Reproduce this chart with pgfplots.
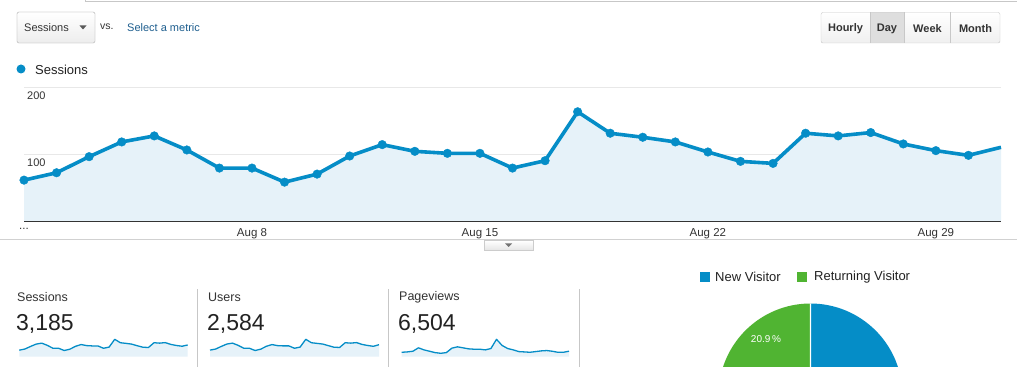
\documentclass[border=0pt]{standalone}
\usepackage{fontspec}
\setmainfont{Liberation Sans}
\usepackage{pgfplots}
\pgfplotsset{compat=1.18}
\usepackage{pgfplotstable}

\definecolor{gablue}{HTML}{058DC7}
\definecolor{gagreen}{HTML}{50B432}
\definecolor{areablue}{HTML}{E6F2F9}
\definecolor{sparkfill}{HTML}{E6F2F9}
\definecolor{gridc}{HTML}{E8E8E8}
\definecolor{txt}{HTML}{333333}
\definecolor{dark}{HTML}{222222}
\definecolor{linkc}{HTML}{1F5F8F}
\definecolor{bord}{HTML}{C8C8C8}

\newcommand{\fs}[1]{\fontsize{#1bp}{#1bp}\selectfont}

% day, sessions, users, pageviews
\pgfplotstableread{
d s u p
1 61 50 139
2 72 58 150
3 96 78 171
4 118 96 278
5 127 103 214
6 106 86 171
7 79 64 128
8 79 64 107
9 58 47 128
10 70 57 268
11 97 79 310
12 114 92 278
13 104 84 246
14 101 82 235
15 101 82 235
16 79 64 214
17 90 73 257
18 163 132 546
19 131 106 353
20 125 101 257
21 118 96 214
22 103 84 160
23 89 72 150
24 86 70 139
25 131 106 160
26 127 103 182
27 132 107 193
28 115 93 171
29 105 85 139
30 98 79 139
31 110 91 172
}\data

\begin{document}
\begin{tikzpicture}
\useasboundingbox (0,0) rectangle (1017bp,367bp);
\fill[white] (0,0) rectangle (1017bp,367bp);

% top tab line
\draw[black!22, line width=1bp] (85bp,367bp) -- (85bp,365.5bp) -- (1017bp,365.5bp);

% metric dropdown
\shade[top color=white, bottom color=black!7, draw=bord, rounded corners=2bp]
  (17bp,324bp) rectangle (95bp,355bp);
\draw[bord, rounded corners=2bp] (17bp,324bp) rectangle (95bp,355bp);
\node[anchor=west, inner sep=0pt, font=\fs{11}, text=txt] at (24bp,339.5bp) {Sessions};
\fill[black!65] (79.5bp,341.5bp) -- (86.5bp,341.5bp) -- (83bp,337.5bp) -- cycle;
\node[anchor=west, inner sep=0pt, font=\fs{10.5}, text=txt] at (100bp,340.5bp) {vs.};
\node[anchor=west, inner sep=0pt, font=\fs{11}, text=linkc] at (127bp,339bp) {Select a metric};

% period buttons
\shade[top color=white, bottom color=black!6] (821bp,324bp) rectangle (1000bp,354.5bp);
\fill[black!13] (870bp,324bp) rectangle (904.5bp,354.5bp);
\draw[bord, rounded corners=2bp] (821bp,324bp) rectangle (1000bp,354.5bp);
\draw[bord] (870bp,324bp) -- (870bp,354.5bp) (904.5bp,324bp) -- (904.5bp,354.5bp) (950.5bp,324bp) -- (950.5bp,354.5bp);
\node[inner sep=0pt, font=\fs{11}\bfseries, text=txt] at (845.5bp,338.5bp) {Hourly};
\node[inner sep=0pt, font=\fs{11}\bfseries, text=txt] at (887bp,338.5bp) {Day};
\node[inner sep=0pt, font=\fs{11}\bfseries, text=txt] at (927.5bp,338.5bp) {Week};
\node[inner sep=0pt, font=\fs{11}\bfseries, text=txt] at (975.5bp,338.5bp) {Month};

% series legend
\fill[gablue] (21bp,298bp) circle[radius=4.5bp];
\node[anchor=west, inner sep=0pt, font=\fs{13}, text=dark] at (35bp,297.5bp) {Sessions};

% main chart
\begin{axis}[
  at={(24bp,146bp)}, anchor=south west,
  scale only axis, width=977bp, height=134bp,
  xmin=1, xmax=31, ymin=0, ymax=200,
  axis lines*=left,
  y axis line style={draw=none},
  x axis line style={draw=black!80, line width=1.3bp},
  ytick={100,200}, yticklabels={},
  ymajorgrids, grid style={gridc, line width=0.8bp},
  xtick={1,8,15,22,29},
  xticklabels={{.{}.{}.},Aug 8,Aug 15,Aug 22,Aug 29},
  major tick length=0pt,
  xticklabel style={font=\fs{11.5}, text=txt, inner sep=0pt, yshift=-7.5bp},
  clip=false,
]
\addplot[draw=none, fill=areablue] table[x=d,y=s]{\data} \closedcycle;
\addplot[gablue, line width=3.6bp, line join=round] table[x=d,y=s]{\data};
\addplot[only marks, mark=*, mark size=4.3bp, gablue, restrict x to domain=1:30] table[x=d,y=s]{\data};
\node[anchor=north west, xshift=3bp, yshift=-4.5bp, inner sep=0pt, font=\fs{11}, text=txt] at (axis cs:1,200) {200};
\node[anchor=north west, xshift=3bp, yshift=-4.5bp, inner sep=0pt, font=\fs{11}, text=txt] at (axis cs:1,100) {100};
\end{axis}

% divider line with toggle button
\draw[black!18, line width=1bp] (0,127.5bp) -- (1017bp,127.5bp);
\shade[top color=white, bottom color=black!10] (484bp,117bp) rectangle (533bp,126.5bp);
\draw[black!20] (484bp,117bp) rectangle (533bp,126.5bp);
\fill[black!55] (505bp,123.5bp) -- (512bp,123.5bp) -- (508.5bp,120bp) -- cycle;

% scorecards
\draw[black!22, line width=1bp] (197bp,0) -- (197bp,78bp) (388bp,0) -- (388bp,78bp) (579bp,0) -- (579bp,78bp);
\node[anchor=west, inner sep=0pt, font=\fs{12.5}, text=txt] at (17bp,70bp) {Sessions};
\node[anchor=west, inner sep=0pt, font=\fs{12.5}, text=txt] at (208bp,70bp) {Users};
\node[anchor=west, inner sep=0pt, font=\fs{12.5}, text=txt] at (399bp,70bp) {Pageviews};
\node[anchor=west, inner sep=0pt, font=\fs{23}, text=dark] at (16bp,43.5bp) {3,185};
\node[anchor=west, inner sep=0pt, font=\fs{23}, text=dark] at (207bp,43.5bp) {2,584};
\node[anchor=west, inner sep=0pt, font=\fs{23}, text=dark] at (398bp,43.5bp) {6,504};

\begin{axis}[at={(19.3bp,10.3bp)}, anchor=south west, scale only axis,
  width=168.4bp, height=17.4bp, xmin=1, xmax=31, ymin=0, ymax=163, hide axis, clip=false]
\addplot[draw=none, fill=sparkfill] table[x=d,y=s]{\data} \closedcycle;
\addplot[gablue, line width=1.3bp, line join=round] table[x=d,y=s]{\data};
\end{axis}
\begin{axis}[at={(210bp,10.3bp)}, anchor=south west, scale only axis,
  width=169bp, height=17.4bp, xmin=1, xmax=31, ymin=0, ymax=132, hide axis, clip=false]
\addplot[draw=none, fill=sparkfill] table[x=d,y=u]{\data} \closedcycle;
\addplot[gablue, line width=1.3bp, line join=round] table[x=d,y=u]{\data};
\end{axis}
\begin{axis}[at={(401.7bp,10.3bp)}, anchor=south west, scale only axis,
  width=167.3bp, height=17.4bp, xmin=1, xmax=31, ymin=0, ymax=546, hide axis, clip=false]
\addplot[draw=none, fill=sparkfill] table[x=d,y=p]{\data} \closedcycle;
\addplot[gablue, line width=1.3bp, line join=round] table[x=d,y=p]{\data};
\end{axis}

% visitor pie legend
\fill[gablue] (700bp,85bp) rectangle (710bp,95bp);
\node[anchor=west, inner sep=0pt, font=\fs{13}, text=dark] at (715bp,90bp) {New Visitor};
\fill[gagreen] (797bp,85bp) rectangle (807bp,95bp);
\node[anchor=west, inner sep=0pt, font=\fs{13}, text=dark] at (814bp,90bp) {Returning Visitor};

% pie (Returning 20.9 %, New 79.1 %)
\begin{scope}
\clip (0,0) rectangle (1017bp,367bp);
\pgfmathsetmacro{\ang}{90+20.9*3.6}
\fill[gagreen] (810.5bp,-28.5bp) -- ++(90:92bp) arc[start angle=90, end angle=\ang, radius=92bp] -- cycle;
\fill[gablue] (810.5bp,-28.5bp) -- ++(\ang:92bp) arc[start angle=\ang, end angle=450, radius=92bp] -- cycle;
\draw[white, line width=1.2bp] (810.5bp,-28.5bp) -- ++(90:92bp) (810.5bp,-28.5bp) -- ++(\ang:92bp);
\end{scope}
\node[inner sep=0pt, font=\fs{10}, text=white] at (766bp,28bp) {20.9\,\%};
\end{tikzpicture}
\end{document}
